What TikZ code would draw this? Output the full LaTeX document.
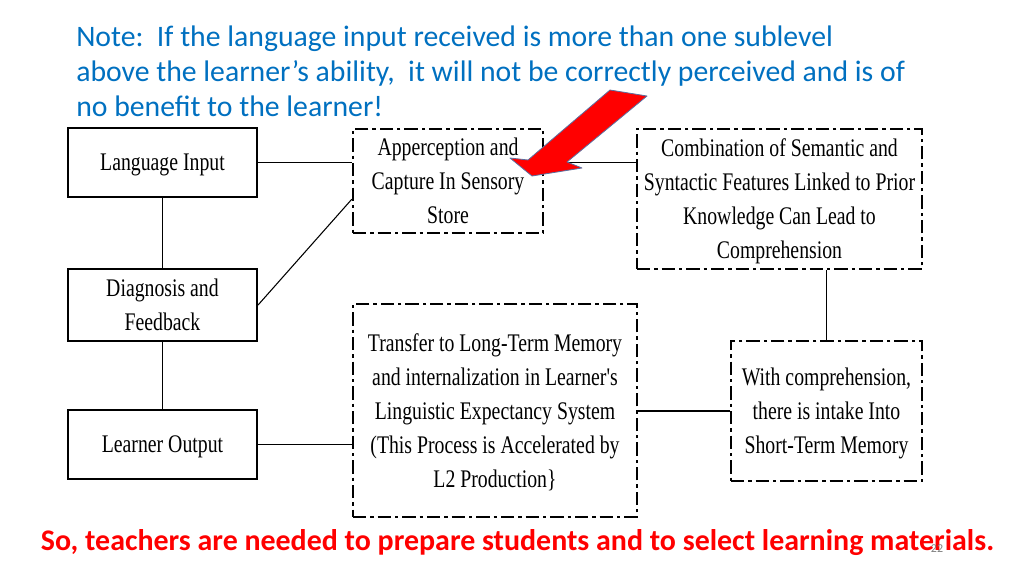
\documentclass[tikz,border=0pt]{standalone}
\usepackage{fontspec}
\newfontfamily\notefont{Carlito}
\newfontfamily\boxfont[FakeStretch=0.78]{Liberation Serif}
\definecolor{noteblue}{HTML}{0070C0}
\definecolor{arrowline}{HTML}{5B6FA0}
\begin{document}
\begin{tikzpicture}[x=0.75pt,y=-0.75pt,
    solidbox/.style={rectangle,draw,line width=1.6pt,inner sep=0pt,align=center,text depth=0pt,
      font=\boxfont\fontsize{19}{25.5}\selectfont},
    dashbox/.style={rectangle,draw,line width=1.7pt,inner sep=0pt,align=center,text depth=0pt,
      dash pattern=on 10pt off 3pt on 2.5pt off 3pt,
      font=\boxfont\fontsize{19}{25.5}\selectfont},
    link/.style={line width=0.8pt}]
  \useasboundingbox (0,0) rectangle (1024,576);

  %note
  \node[anchor=north west,align=left,inner sep=0pt,text=noteblue,
    font=\notefont\fontsize{22.3}{26.25}\selectfont] (note) at (76,26)
    {Note:\ \ If the language input received is more than one sublevel\\
     above the learner’s ability,\ \ it will not be correctly perceived and is of\\
     no benefit to the learner!};

  %left column
  \node[solidbox,minimum width=141.75pt,minimum height=51.75pt] (input) at (162.5,162.5){Language Input};
  \node[solidbox,minimum width=141.75pt,minimum height=54pt] (diag) at (162.5,305){Diagnosis and\\Feedback};
  \node[solidbox,minimum width=141.75pt,minimum height=51.75pt] (output) at (162.5,444.5){Learner Output};

  %stages
  \node[dashbox,minimum width=142.5pt,minimum height=78pt] (apper) at (448,181)
    {Apperception and\\Capture In Sensory\\Store};
  \node[dashbox,minimum width=213.75pt,minimum height=105pt] (comb) at (779.5,199)
    {Combination of Semantic and\\Syntactic Features Linked to Prior\\Knowledge Can Lead to\\Comprehension};
  \node[dashbox,minimum width=213pt,minimum height=159.75pt] (transfer) at (495,410.5)
    {Transfer to Long-Term Memory\\and internalization in Learner's\\Linguistic Expectancy System\\(This Process is Accelerated by\\L2 Production\}};
  \node[dashbox,minimum width=143.25pt,minimum height=105pt] (intake) at (826.5,411)
    {With comprehension,\\there is intake Into\\Short-Term Memory};

  %connectors
  \draw[link] (input.east) -- (input.east -| apper.west);
  \draw[link] (input.south) -- (diag.north);
  \draw[link] (diag.south) -- (output.north);
  \draw[link] (diag.east) -- ([yshift=26.25pt]apper.south west);
  \draw[link] (output.east) -- (output.east -| transfer.west);
  \draw[link] (apper.east |- input.east) -- (comb.west |- input.east);
  \draw[link] (intake.north |- comb.south) -- (intake.north);
  \draw[link] (transfer.east |- intake.west) -- (intake.west);

  %red arrow
  \draw[fill=red,draw=arrowline,line width=0.6pt,line join=round]
    (610,90) -- (647,96) -- (567,162) -- (582,168) -- (532,176) -- (510,158) -- (528,160) -- cycle;

  %bottom line
  \node[anchor=base,inner sep=0pt,text=red,font=\notefont\bfseries\fontsize{22.45}{26}\selectfont] (teachers) at (517.5,550)
    {So, teachers are needed to prepare students and to select learning materials.};
  \node[anchor=base,inner sep=0pt,text=gray,font=\notefont\fontsize{9}{10}\selectfont] (page) at (937,552){22};
\end{tikzpicture}
\end{document}
